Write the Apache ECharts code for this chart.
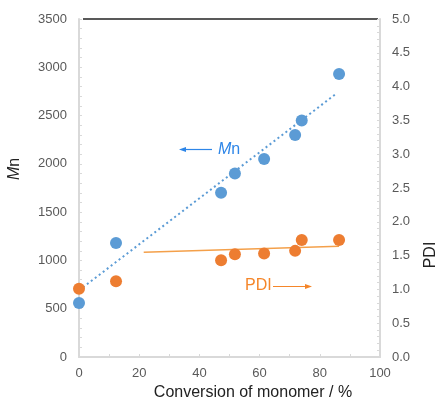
<!DOCTYPE html>
<html>
<head>
<meta charset="utf-8">
<script src="https://cdn.jsdelivr.net/npm/echarts@6/dist/echarts.min.js"></script>
<style>
  html, body { margin: 0; padding: 0; background: #fff; }
  #chart { width: 437px; height: 401px; }
</style>
</head>
<body>
<div id="chart"></div>
<script>
// conversion (%) of each sample
const conversion = [0, 12.3, 47.2, 51.8, 61.5, 71.8, 74, 86.4]
// number-average molecular weight
const mnValues = [560, 1180, 1700, 1900, 2050, 2300, 2450, 2930]
// polydispersity index
const pdiValues = [1.01, 1.12, 1.43, 1.52, 1.53, 1.57, 1.73, 1.73]
// trendline end points
const mnTrend = [[0, 690], [85.6, 2730]]
const pdiTrend = [[21.5, 1.55], [86.4, 1.64]]

const blue = '#5B9BD5'
const orange = '#ED7D31'
const axisGray = '#D9D9D9'
const labelGray = '#595959'
const font = 'Liberation Sans, Arial, sans-serif'

const chart = echarts.init(document.getElementById('chart'))

const axisCommon = {
  type: 'value',
  axisLine: { show: true, lineStyle: { color: axisGray, width: 2 } },
  axisTick: { show: true, inside: true, length: 3, lineStyle: { color: axisGray } },
  minorTick: { show: true, length: 3, lineStyle: { color: axisGray } },
  splitLine: { show: false },
  axisLabel: { color: labelGray, fontSize: 13, fontFamily: font }
}

const option = {
  animation: false,
  grid: { left: 79, right: 57, top: 19, bottom: 44 },
  xAxis: {
    ...axisCommon,
    min: 0, max: 100, interval: 20,
    minorTick: { ...axisCommon.minorTick, splitNumber: 2 },
    axisLabel: { ...axisCommon.axisLabel, margin: 10 }
  },
  yAxis: [
    {
      ...axisCommon,
      min: 0, max: 3500, interval: 500,
      minorTick: { ...axisCommon.minorTick, splitNumber: 5 },
      axisLabel: { ...axisCommon.axisLabel, margin: 12, formatter: v => String(v) }
    },
    {
      ...axisCommon,
      position: 'right',
      min: 0, max: 5, interval: 0.5,
      minorTick: { ...axisCommon.minorTick, splitNumber: 5 },
      axisLabel: { ...axisCommon.axisLabel, margin: 12, formatter: v => v.toFixed(1) }
    }
  ],
  series: [
    {
      type: 'line',
      data: mnTrend,
      symbol: 'none',
      lineStyle: { color: blue, width: 2, type: [2, 3] },
      z: 1
    },
    {
      type: 'line',
      yAxisIndex: 1,
      data: pdiTrend,
      symbol: 'none',
      lineStyle: { color: '#F4A04A', width: 1.5 },
      z: 1
    },
    {
      type: 'scatter',
      data: conversion.map((c, i) => [c, mnValues[i]]),
      symbolSize: 12,
      itemStyle: { color: blue, opacity: 1 },
      z: 3
    },
    {
      type: 'scatter',
      yAxisIndex: 1,
      data: conversion.map((c, i) => [c, pdiValues[i]]),
      symbolSize: 12,
      itemStyle: { color: orange, opacity: 1 },
      z: 3
    }
  ],
  graphic: [
    // top border
    { type: 'line', shape: { x1: 83, y1: 19, x2: 378, y2: 19 }, style: { stroke: '#222', lineWidth: 1.5 } },
    // Mn annotation with left arrow
    { type: 'line', shape: { x1: 212, y1: 149.5, x2: 184, y2: 149.5 }, style: { stroke: '#2E86E8', lineWidth: 1.2 } },
    { type: 'polygon', shape: { points: [[179, 149.5], [186, 147], [186, 152]] }, style: { fill: '#2E86E8' } },
    {
      type: 'text', left: 218, top: 142,
      style: {
        text: '{i|M}n', fill: '#2E86E8', font: '16px ' + font,
        rich: { i: { fontStyle: 'italic', fontSize: 16, fontFamily: font, fill: '#2E86E8' } }
      }
    },
    // PDI annotation with right arrow
    {
      type: 'text', left: 245, top: 278,
      style: { text: 'PDI', fill: '#F5862A', font: '16px ' + font }
    },
    { type: 'line', shape: { x1: 273, y1: 286.5, x2: 306, y2: 286.5 }, style: { stroke: '#F5862A', lineWidth: 1.2 } },
    { type: 'polygon', shape: { points: [[312, 286.5], [305, 284], [305, 289]] }, style: { fill: '#F5862A' } },
    // axis titles
    {
      type: 'text', x: 15, y: 169, rotation: Math.PI / 2,
      style: {
        text: '{i|M}n', fill: '#222', font: '16px ' + font, align: 'center', verticalAlign: 'middle',
        rich: { i: { fontStyle: 'italic', fontSize: 16, fontFamily: font, fill: '#222' } }
      }
    },
    {
      type: 'text', x: 431, y: 255, rotation: Math.PI / 2,
      style: { text: 'PDI', fill: '#222', font: '16px ' + font, align: 'center', verticalAlign: 'middle' }
    },
    {
      type: 'text', x: 253, y: 393,
      style: { text: 'Conversion of monomer / %', fill: '#222', font: '16px ' + font, align: 'center', verticalAlign: 'middle' }
    }
  ]
}

chart.setOption(option)
</script>
</body>
</html>
